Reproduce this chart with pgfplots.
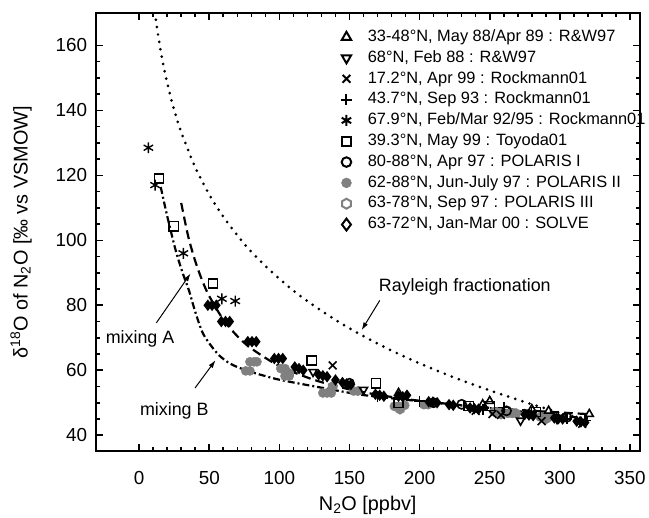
\documentclass[border=0pt]{standalone}
\usepackage{pgfplots}
\pgfplotsset{compat=1.18}
\usepackage{fontspec}
\setmainfont{Liberation Sans}
\usetikzlibrary{arrows.meta}

\definecolor{mgray}{RGB}{128,128,128}

\pgfdeclareplotmark{hexagon}{%
  \pgfpathmoveto{\pgfpointpolar{90}{\pgfplotmarksize}}%
  \pgfpathlineto{\pgfpointpolar{150}{\pgfplotmarksize}}%
  \pgfpathlineto{\pgfpointpolar{210}{\pgfplotmarksize}}%
  \pgfpathlineto{\pgfpointpolar{270}{\pgfplotmarksize}}%
  \pgfpathlineto{\pgfpointpolar{330}{\pgfplotmarksize}}%
  \pgfpathlineto{\pgfpointpolar{30}{\pgfplotmarksize}}%
  \pgfpathclose
  \pgfusepathqfillstroke}

\begin{document}
\begin{tikzpicture}
\begin{axis}[
  name=ax,
  scale only axis,
  width=546bp, height=440bp,
  xmin=-31, xmax=357, ymin=35, ymax=170,
  xtick={0,50,...,350}, minor x tick num=4,
  ytick={40,60,...,160}, minor y tick num=3,
  tick align=inside,
  axis line style={line width=2bp},
  every tick/.style={black, line width=1.6bp},
  major tick length=7bp, minor tick length=4bp,
  tick label style={font=\fontsize{19}{22}\selectfont},
  /pgf/number format/assume math mode=true,
  xticklabel style={anchor=center, yshift=-27bp},
  yticklabel style={xshift=-5bp},
  xlabel={N\textsubscript{2}O [ppbv]},
  ylabel={δ\textsuperscript{18}O of N\textsubscript{2}O [‰ vs VSMOW]},
  every axis x label/.style={at={(axis description cs:0.5,-0.123)}, anchor=center,
    font=\fontsize{20}{24}\selectfont},
  every axis y label/.style={at={(axis description cs:-0.137,0.5)}, rotate=90, anchor=center,
    font=\fontsize{20}{24}\selectfont},
  legend cell align=left,
  legend style={at={(axis description cs:0.4505,0.964)}, anchor=north west,
    draw=none, fill=none, inner sep=0pt, row sep=4.4bp,
    font=\fontsize{16.5}{19}\selectfont,
    nodes={inner sep=1pt, text height=11.5bp, text depth=3bp},
    /tikz/every odd column/.append style={column sep=15bp}},
  mark size=4.6bp,
]

% curves
\addplot[forget plot, line width=3bp, dash pattern=on 0bp off 7.5bp, line cap=round, smooth] coordinates {
  (11.2,170.2) (13,164.6) (16,156.8) (20,148.5) (25,140.1) (30,133.3) (40,122.5)
  (50,114.1) (60,107.3) (75,98.9) (90,92.1) (110,84.5) (130,78.3) (150,72.9)
  (175,67.1) (200,62.1) (225,57.7) (250,53.8) (275,50.2) (300,46.9) (320,44.5)
};
\addplot[forget plot, line width=2.2bp, dash pattern=on 9bp off 5bp, smooth] coordinates {
  (30,111.5) (35,101.2) (40,93.6) (45,87.6) (50,82.8) (60,75.6) (70,70.5) (80,66.7)
  (100,61.3) (125,57.0) (150,54.1) (175,52.1) (200,50.6) (250,48.4) (300,47.0) (320,46.5)
};
\addplot[forget plot, line width=2.2bp, dash pattern=on 7bp off 3bp on 2bp off 3bp, smooth] coordinates {
  (15.4,116.4) (20,107.5) (26,97) (31,90) (35.5,84.6) (40,78) (45,71.8) (50,68.3)
  (57,64.6) (65,62) (76,60) (90,58.2) (102,56.9) (133,54.4) (161,52.3) (206,50.2)
  (250,48.3) (300,46) (320,45.2)
};

% legend images
\addlegendimage{only marks, mark=triangle, mark size=5.4bp, mark options={line width=2bp, fill=white}}
\addlegendentry{33-48°N, May 88/Apr 89 : R\&W97}
\addlegendimage{only marks, mark=triangle, mark size=5.4bp, mark options={rotate=180, line width=2bp, fill=white}}
\addlegendentry{68°N, Feb 88 : R\&W97}
\addlegendimage{only marks, mark=x, mark size=5.5bp, mark options={line width=2bp}}
\addlegendentry{17.2°N, Apr 99 : Rockmann01}
\addlegendimage{only marks, mark=+, mark size=5.5bp, mark options={line width=2bp}}
\addlegendentry{43.7°N, Sep 93 : Rockmann01}
\addlegendimage{only marks, mark=asterisk, mark size=5.5bp, mark options={line width=2bp}}
\addlegendentry{67.9°N, Feb/Mar 92/95 : Rockmann01}
\addlegendimage{only marks, mark=square, mark size=4.6bp, mark options={line width=2bp, fill=white}}
\addlegendentry{39.3°N, May 99 : Toyoda01}
\addlegendimage{only marks, mark=o, mark size=4.8bp, mark options={line width=2bp, fill=white}}
\addlegendentry{80-88°N, Apr 97 : POLARIS I}
\addlegendimage{only marks, mark=*, mark size=5bp, mark options={draw=mgray, fill=mgray}}
\addlegendentry{62-88°N, Jun-July 97 : POLARIS II}
\addlegendimage{only marks, mark=hexagon, mark size=5bp, mark options={draw=mgray, fill=white, line width=2bp}}
\addlegendentry{63-78°N, Sep 97 : POLARIS III}
\addlegendimage{only marks, mark=diamond, mark size=6bp, mark options={line width=2bp, fill=white}}
\addlegendentry{63-72°N, Jan-Mar 00 : SOLVE}

% POLARIS II (grey filled circles)
\addplot[forget plot, only marks, mark=*, mark options={draw=mgray, fill=mgray}] coordinates {
  (76,59.8) (79,59.8) (79,62.6) (82,62.6) (84,62.6) (101,60.5) (104,60.5) (104,58.2) (107,58.2)
  (131,53) (134,53) (137,53) (153,53.6) (156,53.6) (182,48.9) (185,48.9) (189.4,49.2)
  (203,49.4) (206,49.4) (253,47.2) (256,47.2) (263,46.7) (266,46.7) (269,46.7)
  (286,45.6) (289,45.6) (292,45.6)
};
% POLARIS III
\addplot[forget plot, only marks, mark=hexagon, mark options={draw=mgray, fill=mgray, line width=1.5bp}] coordinates {
  (107,59) (138,55) (186,48) (258,46.5) (290,45)
};
% SOLVE
\addplot[forget plot, only marks, mark=diamond*, mark options={line width=1.5bp, draw=black, fill=black}] coordinates {
  (49,80) (52,80) (55,80) (58.6,75) (61.6,75) (64.6,75) (77.5,68.8) (80.5,68.8) (83.5,68.8)
  (96.4,63.6) (99.4,63.6) (102.4,63.6) (111,61) (114,60.5) (117,60)
  (128,58.6) (131,58.3) (134,58) (140,57) (145,56.2) (148,55.8) (151,55.6)
  (168.5,52.6) (171.5,52.3) (174.5,52) (185,52) (188,51.8) (191,52.3)
  (206.5,50.3) (209.5,50.2) (212.5,50) (221,49.4) (224,49.2)
  (236,48.4) (239,48.2) (242,48) (275,46.4) (278,46.2) (281,46)
  (296,45.3) (299,45.1) (302,45) (312,44.3) (315,44.1) (318,43.9)
};
% POLARIS I
\addplot[forget plot, only marks, mark=o, mark options={line width=1.6bp}] coordinates {
  (150,56) (210,50) (230,49.5) (262,47.5) (305,45.5)
};
% R&W97 33-48N
\addplot[forget plot, only marks, mark=triangle, mark options={line width=1.6bp}] coordinates {
  (185,53) (245,49.5) (250,50.5) (280,48) (292,47.5) (321,46.5)
};
% R&W97 68N
\addplot[forget plot, only marks, mark=triangle, mark options={rotate=180, line width=1.6bp}] coordinates {
  (124,59.5) (160,54) (272,44.5) (298,45)
};
% Rockmann01 17.2N
\addplot[forget plot, only marks, mark=x, mark size=5.5bp, mark options={line width=1.6bp}] coordinates {
  (138,61.5) (240,47.5) (252,46.5) (258,46.2) (287,44.3) (300,45.5) (316,43.5)
};
% Rockmann01 43.7N
\addplot[forget plot, only marks, mark=+, mark size=5.5bp, mark options={line width=1.6bp}] coordinates {
  (170,52) (200,50.5) (245,48) (260,48.5) (305,45) (318,44.5)
};
% Rockmann01 67.9N
\addplot[forget plot, only marks, mark=asterisk, mark options={line width=1.4bp}, mark size=5.5bp] coordinates {
  (6.6,128.5) (11.4,117) (31.5,96) (59,82) (68.5,81.3)
};
% Toyoda01
\addplot[forget plot, only marks, mark=square, mark options={line width=1.4bp, fill=none}] coordinates {
  (14.2,119) (24.6,104.3) (52.6,86.7) (123,63) (169,56) (185,50) (235,49) (250,49) (283,47.2)
};

% annotations
\node[anchor=base east, font=\fontsize{18}{21}\selectfont] at (axis cs:296,84.1) {Rayleigh fractionation};
\draw[line width=1bp, -{Latex[length=8bp,width=5bp]}] (axis cs:171.6,81.5) -- (axis cs:158.6,72.3);
\node[anchor=base west, font=\fontsize{18}{21}\selectfont] at (axis cs:-26.3,68.3) {mixing A};
\draw[line width=1bp, -{Latex[length=8bp,width=5bp]}] (axis cs:12.3,74.6) -- (axis cs:36.7,89.8);
\node[anchor=base east, font=\fontsize{18}{21}\selectfont] at (axis cs:52,46.2) {mixing B};
\draw[line width=1bp, -{Latex[length=8bp,width=5bp]}] (axis cs:39.8,54.5) -- (axis cs:54.5,63.1);
\end{axis}
\path ([xshift=-96bp,yshift=-65bp]ax.south west) rectangle ([xshift=7bp,yshift=13bp]ax.north east);
\end{tikzpicture}
\end{document}
